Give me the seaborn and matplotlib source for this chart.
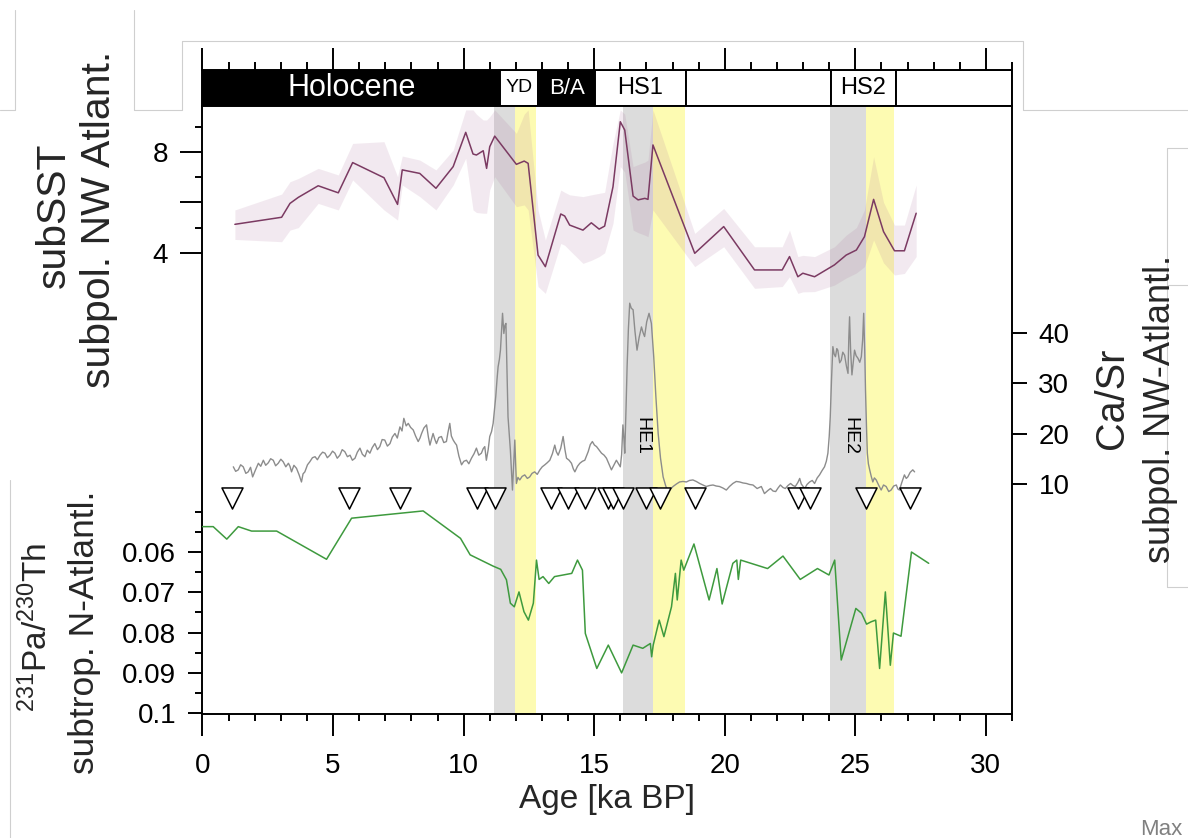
import numpy as np
import pandas as pd
import matplotlib
matplotlib.use("Agg")
import matplotlib.pyplot as plt
from matplotlib.lines import Line2D
from matplotlib.ticker import MultipleLocator, FixedLocator, FixedFormatter, NullFormatter
import seaborn as sns

# ---------------- data ----------------
# subpolar NW Atlantic sea-surface temperature (deg C) with uncertainty envelope
sst_age = [1.24, 3.03, 3.35, 3.67, 4.43, 5.20, 5.75, 6.95, 7.47, 7.65, 8.32, 8.94, 9.60,
           10.08, 10.36, 10.49, 10.75, 10.88, 11.00, 11.19, 12.02, 12.32, 12.47, 12.85,
           13.13, 13.72, 13.87, 14.06, 14.57, 14.89, 15.19, 15.40, 15.72, 16.00, 16.17,
           16.49, 16.68, 16.94, 17.06, 17.25, 18.85, 19.96, 21.14, 22.20, 22.48, 22.80,
           22.99, 23.44, 24.20, 24.65, 25.04, 25.35, 25.70, 26.08, 26.50, 26.88, 27.33]
sst_val = [5.13, 5.41, 5.96, 6.20, 6.66, 6.38, 7.58, 6.98, 5.92, 7.29, 7.15, 6.56, 7.42,
           8.78, 7.92, 7.88, 8.05, 7.35, 8.21, 8.63, 7.51, 7.64, 7.55, 3.91,
           3.45, 5.54, 5.46, 5.10, 4.90, 5.19, 4.94, 5.06, 6.62, 9.20, 8.87,
           6.25, 6.10, 6.16, 6.12, 8.28, 3.98, 5.04, 3.32, 3.32, 3.85, 3.05,
           3.19, 3.05, 3.52, 3.91, 4.11, 4.64, 6.12, 4.84, 4.08, 4.08, 5.57]
sst_hi = [5.70, 6.33, 6.82, 6.95, 7.35, 7.09, 8.34, 8.41, 7.02, 7.84, 7.68, 7.29, 8.08,
          9.67, 9.67, 9.50, 9.27, 9.27, 9.40, 9.67, 8.74, 9.50, 9.67, 5.70,
          4.51, 6.49, 6.40, 6.30, 6.23, 6.30, 6.36, 6.40, 8.34, 9.67, 9.50,
          7.42, 7.50, 7.60, 7.68, 9.67, 4.77, 5.76, 4.24, 4.24, 4.90, 3.85,
          3.90, 3.85, 4.24, 4.70, 5.00, 5.70, 7.81, 6.00, 5.10, 5.10, 6.69]
sst_lo = [4.53, 4.44, 4.90, 5.00, 5.96, 5.70, 6.89, 5.70, 5.30, 6.69, 6.23, 5.70, 6.69,
          7.75, 5.70, 5.60, 5.57, 5.57, 6.50, 7.02, 5.83, 5.90, 5.70, 2.66,
          2.39, 4.37, 4.30, 4.10, 3.58, 3.70, 3.85, 4.00, 5.17, 7.42, 7.20,
          4.90, 4.80, 4.70, 4.64, 5.70, 3.45, 4.24, 2.59, 2.66, 3.05, 2.39,
          2.45, 2.46, 2.72, 3.00, 3.20, 3.45, 4.51, 3.60, 3.12, 3.18, 3.85]

# XRF Ca/Sr ratio, subpolar NW Atlantic
casr_age = [1.18, 1.27, 1.37, 1.46, 1.56, 1.66, 1.75, 1.84, 1.92, 2.03, 2.14, 2.23, 2.33,
            2.42, 2.52, 2.61, 2.71, 2.80, 2.90, 3.00, 3.09, 3.19, 3.29, 3.35, 3.41, 3.50,
            3.60, 3.70, 3.79, 3.85, 3.92, 4.02, 4.11, 4.21, 4.31, 4.40, 4.50, 4.60, 4.69,
            4.78, 4.88, 4.98, 5.07, 5.16, 5.26, 5.35, 5.45, 5.55, 5.65, 5.74, 5.84, 5.93,
            6.03, 6.12, 6.22, 6.31, 6.41, 6.50, 6.60, 6.70, 6.79, 6.88, 6.98, 7.08, 7.18,
            7.27, 7.37, 7.46, 7.56, 7.64, 7.71, 7.80, 7.88, 7.97, 8.07, 8.16, 8.26, 8.33,
            8.39, 8.48, 8.58, 8.65, 8.71, 8.77, 8.83, 8.90, 8.96, 9.05, 9.15, 9.24, 9.34,
            9.40, 9.47, 9.53, 9.60, 9.66, 9.73, 9.82, 9.92, 10.01, 10.11, 10.20, 10.30,
            10.40, 10.49, 10.58, 10.68, 10.75, 10.81, 10.87, 10.94, 11.00, 11.07, 11.13,
            11.18, 11.23, 11.28, 11.32, 11.37, 11.41, 11.45, 11.49, 11.54, 11.58, 11.62,
            11.70, 11.79, 11.87, 11.96, 12.02, 12.08, 12.15, 12.24, 12.34, 12.44, 12.53,
            12.62, 12.72, 12.82, 12.92, 13.01, 13.11, 13.20, 13.30, 13.40, 13.49, 13.55,
            13.62, 13.72, 13.81, 13.88, 13.94, 14.04, 14.13, 14.20, 14.26, 14.36, 14.45,
            14.55, 14.64, 14.70, 14.77, 14.85, 14.93, 15.01, 15.09, 15.18, 15.28, 15.38,
            15.47, 15.56, 15.66, 15.75, 15.85, 15.92, 16.00, 16.05, 16.10, 16.14, 16.17,
            16.22, 16.26, 16.31, 16.36, 16.42, 16.49, 16.56, 16.64, 16.72, 16.81, 16.87,
            16.93, 17.01, 17.10, 17.15, 17.19, 17.28, 17.36, 17.45, 17.54, 17.64, 17.74,
            17.83, 18.02, 18.15, 18.27, 18.40, 18.53, 18.65, 18.78, 18.91, 19.04, 19.17,
            19.29, 19.42, 19.55, 19.67, 19.80, 19.93, 20.06, 20.18, 20.31, 20.44, 20.57,
            20.70, 20.83, 20.95, 21.08, 21.24, 21.40, 21.52, 21.65, 21.75, 21.85, 21.95,
            22.04, 22.13, 22.23, 22.32, 22.42, 22.52, 22.61, 22.70, 22.80, 22.87, 22.93,
            23.00, 23.06, 23.15, 23.25, 23.35, 23.44, 23.54, 23.63, 23.72, 23.82, 23.89,
            23.95, 24.00, 24.04, 24.09, 24.14, 24.19, 24.24, 24.29, 24.33, 24.40, 24.46,
            24.52, 24.59, 24.66, 24.72, 24.75, 24.78, 24.82, 24.87, 24.92, 24.97, 25.03,
            25.10, 25.17, 25.23, 25.28, 25.32, 25.36, 25.39, 25.43, 25.46, 25.50, 25.55,
            25.61, 25.67, 25.73, 25.80, 25.90, 25.99, 26.08, 26.18, 26.28, 26.37, 26.47,
            26.57, 26.63, 26.69, 26.78, 26.88, 26.95, 27.01, 27.10, 27.20, 27.27]
casr_val = [13.5, 12.6, 12.9, 13.9, 13.5, 12.2, 12.5, 13.4, 11.5, 12.9, 14.2, 13.6, 14.8,
            13.8, 14.3, 15.1, 14.8, 13.7, 14.2, 15.0, 14.5, 13.5, 14.2, 13.6, 12.5, 13.8,
            13.2, 11.9, 10.5, 12.1, 12.5, 13.9, 14.5, 15.3, 15.5, 14.9, 15.8, 16.4, 16.2,
            15.3, 15.8, 16.6, 16.2, 15.2, 15.8, 16.9, 16.5, 15.5, 15.8, 14.8, 15.2, 16.4,
            17.2, 16.0, 15.5, 16.8, 16.2, 17.3, 18.1, 16.9, 17.5, 18.9, 18.8, 17.6, 18.1,
            19.4, 20.1, 19.2, 21.4, 20.6, 23.1, 21.6, 22.1, 21.3, 20.8, 19.6, 18.5, 19.2,
            20.1, 21.2, 21.8, 19.4, 17.8, 19.0, 20.1, 18.9, 18.1, 19.3, 19.5, 18.3, 18.5,
            20.3, 22.1, 19.6, 18.8, 18.3, 17.8, 15.6, 13.9, 14.6, 14.8, 14.1, 15.2,
            16.1, 17.2, 15.8, 16.2, 17.1, 17.5, 14.8, 16.9, 19.5, 20.5, 22.1,
            24.8, 27.4, 30.9, 33.3, 34.8, 36.6, 40.2, 43.9, 39.9, 41.5, 41.9,
            23.4, 16.8, 8.9, 18.8, 10.2, 11.4, 10.9, 11.6, 11.9, 11.2, 11.5,
            12.2, 12.5, 12.0, 12.9, 13.5, 13.9, 14.3, 14.8, 16.1, 17.8, 16.5,
            15.8, 17.2, 19.5, 16.9, 15.2, 14.8, 14.2, 13.1, 12.5, 13.6, 14.2,
            14.6, 14.8, 15.6, 16.5, 17.9, 18.5, 17.8, 17.5, 16.9, 16.2, 15.8,
            15.2, 14.1, 12.9, 13.8, 14.8, 14.2, 13.5, 15.9, 21.8, 19.0, 16.2,
            25.2, 33.3, 40.8, 45.9, 44.9, 44.6, 40.4, 36.6, 39.1, 41.2, 40.1,
            39.3, 42.2, 43.9, 42.8, 41.9, 35.3, 27.6, 20.1, 15.2, 11.5, 9.7,
            8.6, 9.6, 10.1, 10.5, 10.6, 10.5, 10.8, 10.9, 10.6, 10.2, 9.9,
            9.6, 9.8, 9.9, 9.7, 9.6, 9.3, 8.9, 9.6, 10.2, 10.6, 10.5,
            10.3, 10.2, 10.0, 9.9, 9.2, 9.6, 8.2, 8.8, 9.2, 8.7, 8.6,
            9.3, 9.9, 9.4, 9.2, 9.8, 10.2, 9.8, 9.6, 10.4, 11.2, 10.1,
            9.6, 9.2, 10.0, 10.5, 10.8, 10.2, 11.3, 11.9, 12.7, 13.5, 14.6,
            16.2, 19.5, 23.4, 31.0, 37.3, 35.8, 35.3, 36.9, 36.6, 34.1, 34.6,
            36.2, 35.6, 33.4, 32.0, 38.9, 43.2, 36.5, 31.7, 34.2, 36.6, 35.5,
            35.0, 34.2, 35.3, 38.6, 43.9, 36.5, 28.7, 21.0, 16.2, 14.1, 12.9,
            11.6, 10.5, 11.3, 10.9, 9.8, 8.9, 9.9, 9.6, 8.6, 8.9, 9.7,
            9.9, 9.1, 8.9, 10.4, 11.9, 11.2, 11.5, 12.4, 12.9, 12.5]

# 231Pa/230Th, subtropical N Atlantic (plotted on a reversed axis)
pa_age = [0.0, 0.41, 0.93, 1.37, 1.88, 2.84, 4.75, 5.71, 8.45, 9.88, 10.25, 11.13, 11.42,
          11.64, 11.79, 11.94, 12.12, 12.31, 12.48, 12.67, 12.79, 12.89, 13.04, 13.26,
          13.48, 14.14, 14.36, 14.55, 14.66, 15.10, 15.54, 16.05, 16.49, 16.86, 17.15,
          17.20, 17.26, 17.49, 17.67, 17.96, 18.11, 18.18, 18.33, 18.43, 18.82, 19.40,
          19.70, 19.90, 20.31, 20.46, 20.52, 20.61, 21.64, 22.23, 22.89, 23.55, 23.99,
          24.21, 24.46, 25.02, 25.24, 25.43, 25.61, 25.78, 25.93, 26.15, 26.34, 26.46,
          26.75, 27.15, 27.81]
pa_val = [0.0537, 0.0537, 0.0568, 0.0537, 0.0548, 0.0548, 0.0618, 0.0516, 0.0498, 0.0566,
          0.0607, 0.0635, 0.0643, 0.0669, 0.0727, 0.0736, 0.0699, 0.0748, 0.0769, 0.0727,
          0.0620, 0.0668, 0.0661, 0.0678, 0.0661, 0.0653, 0.0620, 0.0645, 0.0802, 0.0889,
          0.0831, 0.0900, 0.0831, 0.0839, 0.0827, 0.0860, 0.0831, 0.0769, 0.0810, 0.0736,
          0.0653, 0.0719, 0.0620, 0.0645, 0.0580, 0.0719, 0.0641, 0.0729, 0.0628, 0.0620,
          0.0668, 0.0620, 0.0641, 0.0610, 0.0668, 0.0641, 0.0657, 0.0620, 0.0868, 0.0740,
          0.0752, 0.0779, 0.0773, 0.0769, 0.0889, 0.0699, 0.0881, 0.0801, 0.0809, 0.0600,
          0.0628]

# age-model tie points
tie_age = [1.12, 5.62, 7.56, 10.53, 11.20, 13.36, 14.00, 14.66, 15.53, 15.72, 16.10,
           17.00, 17.51, 18.85, 22.80, 23.25, 25.42, 27.10]

# climate periods shown in the header bar
period_name = ["Holocene", "YD", "B/A", "HS1", "", "HS2", ""]
period_start = [0.0, 11.4, 12.85, 15.05, 18.5, 24.05, 26.55]
period_end = [11.4, 12.85, 15.05, 18.5, 24.05, 26.55, 31.0]
period_dark = [True, False, True, False, False, False, False]
period_fontsize = [22, 14, 16, 17, 17, 17, 17]

# Heinrich-event (grey) and following (yellow) intervals
grey_start = [11.17, 16.10, 24.04]
grey_end = [11.96, 17.25, 25.39]
yellow_start = [11.96, 17.25, 25.39]
yellow_end = [12.76, 18.47, 26.48]

he_label = ["HE1", "HE2"]
he_age = [16.83, 24.78]

# ---------------- style ----------------
sns.set_theme(style="ticks")
plt.rcParams["font.family"] = ["Liberation Sans", "DejaVu Sans"]
plt.rcParams["mathtext.fontset"] = "custom"
plt.rcParams["mathtext.rm"] = "Liberation Sans"
plt.rcParams["mathtext.it"] = "Liberation Sans:italic"
plt.rcParams["axes.edgecolor"] = "black"
plt.rcParams["xtick.color"] = "black"
plt.rcParams["ytick.color"] = "black"

W, H = 1188, 838


def box(x0, y0, x1, y1):
    return [x0 / W, 1 - y1 / H, (x1 - x0) / W, (y1 - y0) / H]


fig = plt.figure(figsize=(W / 100, H / 100), dpi=100)
fig.patch.set_facecolor("white")

ax = fig.add_axes(box(202.5, 106, 1012, 714))
ax_bar = fig.add_axes(box(202.5, 70, 1012, 106))

SPW = 1.4
TICK_FS = 20

# ---- base axes: age axis and shaded intervals ----
ax.set_xlim(0, 31)
ax.set_ylim(0, 1)
ax.set_yticks([])
ax.set_facecolor("white")
for s in ["left", "right", "bottom"]:
    ax.spines[s].set_linewidth(SPW)
    ax.spines[s].set_color("black")
ax.spines["top"].set_visible(False)
ax.xaxis.set_major_locator(MultipleLocator(5))
ax.xaxis.set_minor_locator(MultipleLocator(1))
ax.tick_params(axis="x", which="major", direction="out", length=16, width=SPW,
               labelsize=TICK_FS, pad=12)
ax.tick_params(axis="x", which="minor", direction="out", length=5, width=SPW)
ax.set_xlabel("Age [ka BP]", fontsize=24, labelpad=4)

for a, b in zip(grey_start, grey_end):
    ax.axvspan(a, b, color="#dcdcdc", lw=0, zorder=0)
for a, b in zip(yellow_start, yellow_end):
    ax.axvspan(a, b, color="#fdfbb2", lw=0, zorder=0)


def clean_twin(t):
    for s in t.spines.values():
        s.set_visible(False)
    t.patch.set_visible(False)


# ---- SST ----
ax_sst = ax.twinx()
clean_twin(ax_sst)
ax_sst.set_ylim(-14.30, 9.825)
ax_sst.yaxis.set_ticks_position("left")
ax_sst.yaxis.set_major_locator(FixedLocator([4, 6, 8]))
ax_sst.yaxis.set_major_formatter(FixedFormatter(["4", "", "8"]))
ax_sst.yaxis.set_minor_locator(FixedLocator([5, 7, 9]))
ax_sst.yaxis.set_minor_formatter(NullFormatter())
ax_sst.tick_params(axis="y", which="major", direction="out", length=16, width=SPW,
                   labelsize=TICK_FS, pad=9)
ax_sst.tick_params(axis="y", which="minor", direction="out", length=5, width=SPW)
ax_sst.fill_between(sst_age, sst_lo, sst_hi, color="#a86a96", alpha=0.14, lw=0)
sst_df = pd.DataFrame({"age": sst_age, "sst": sst_val})
sns.lineplot(data=sst_df, x="age", y="sst", ax=ax_sst, color="#7b3a62", lw=1.1,
             sort=False, estimator=None)
ax_sst.set_ylabel("")
ax_sst.set_xlabel("")

# ---- Ca/Sr ----
ax_ca = ax.twinx()
clean_twin(ax_ca)
ax_ca.set_ylim(-35.45, 84.95)
ax_ca.yaxis.set_ticks_position("right")
ax_ca.yaxis.set_major_locator(FixedLocator([10, 20, 30, 40]))
ax_ca.tick_params(axis="y", which="major", direction="out", length=11, width=SPW,
                  labelsize=TICK_FS, pad=8)
casr_df = pd.DataFrame({"age": casr_age, "casr": casr_val})
sns.lineplot(data=casr_df, x="age", y="casr", ax=ax_ca, color="#8c8c8c", lw=1.0,
             sort=False, estimator=None)
tie_df = pd.DataFrame({"age": tie_age, "level": 7.3})
sns.scatterplot(data=tie_df, x="age", y="level", ax=ax_ca, marker="v", s=230,
                facecolor="white", edgecolor="black", linewidth=1.1, zorder=5)
for lab, a in zip(he_label, he_age):
    ax_ca.text(a, 19.6, lab, rotation=-90, ha="center", va="center", fontsize=14,
               color="black")
ax_ca.set_ylabel("")
ax_ca.set_xlabel("")

# ---- Pa/Th ----
ax_pa = ax.twinx()
clean_twin(ax_pa)
ax_pa.set_ylim(0.1002, -0.0507)
ax_pa.yaxis.set_ticks_position("left")
pa_ticks = [0.06, 0.07, 0.08, 0.09, 0.1]
ax_pa.yaxis.set_major_locator(FixedLocator(pa_ticks))
ax_pa.yaxis.set_major_formatter(FixedFormatter(["0.06", "0.07", "0.08", "0.09", "0.1"]))
ax_pa.yaxis.set_minor_locator(FixedLocator([0.05, 0.055, 0.065, 0.075, 0.085, 0.095]))
ax_pa.yaxis.set_minor_formatter(NullFormatter())
ax_pa.tick_params(axis="y", which="major", direction="out", length=10, width=SPW,
                  labelsize=TICK_FS, pad=9)
ax_pa.tick_params(axis="y", which="minor", direction="out", length=5, width=SPW)
pa_df = pd.DataFrame({"age": pa_age, "pa": pa_val})
sns.lineplot(data=pa_df, x="age", y="pa", ax=ax_pa, color="#3e9a3e", lw=1.1,
             sort=False, estimator=None)
ax_pa.set_ylabel("")
ax_pa.set_xlabel("")

# ---- header bar of climate periods ----
ax_bar.set_xlim(0, 31)
ax_bar.set_ylim(0, 1)
ax_bar.set_yticks([])
for s in ax_bar.spines.values():
    s.set_linewidth(SPW)
    s.set_color("black")
ax_bar.xaxis.tick_top()
ax_bar.xaxis.set_major_locator(MultipleLocator(5))
ax_bar.xaxis.set_minor_locator(MultipleLocator(1))
ax_bar.tick_params(axis="x", which="major", direction="out", length=16, width=SPW,
                   labeltop=False, labelbottom=False)
ax_bar.tick_params(axis="x", which="minor", direction="out", length=6, width=SPW)
for name, a, b, dark, fs in zip(period_name, period_start, period_end, period_dark,
                                period_fontsize):
    ax_bar.barh(0.5, b - a, left=a, height=1, color="black" if dark else "white",
                edgecolor="black", linewidth=SPW)
    if name:
        ax_bar.text((a + b) / 2, 0.5, name, ha="center", va="center", fontsize=fs,
                    color="white" if dark else "black")

# ---- axis titles ----
fig.text(54 / W, 1 - 215 / H, "subSST", rotation=90, ha="center", va="center",
         fontsize=29.5)
fig.text(99 / W, 1 - 219 / H, "subpol. NW Atlant.", rotation=90, ha="center",
         va="center", fontsize=29.5)
fig.text(37 / W, 1 - 627 / H, r"$^{231}$Pa/$^{230}$Th", rotation=90, ha="center",
         va="center", fontsize=24)
fig.text(85 / W, 1 - 632 / H, "subtrop. N-Atlantl.", rotation=90, ha="center",
         va="center", fontsize=25.5)
fig.text(1112 / W, 1 - 398 / H, "Ca/Sr", rotation=90, ha="center", va="center",
         fontsize=28.5)
fig.text(1161 / W, 1 - 409 / H, "subpol. NW-Atlantl.", rotation=90, ha="center",
         va="center", fontsize=26)
fig.text(1140 / W, 3 / H, "Max", ha="left", va="baseline", fontsize=16, color="#808080")

# ---- thin panel frame lines around the figure ----
frame = "#cfcfcf"
segments = [
    [(15, 10), (15, 110), (0, 110)],
    [(134, 10), (134, 110), (182, 110), (182, 41), (1023, 41), (1023, 110), (1188, 110)],
    [(1188, 148), (1167, 148), (1167, 587), (1188, 587)],
    [(1167, 285), (1188, 285)],
    [(10, 480), (10, 838)],
]
for seg in segments:
    xs = [p[0] / W for p in seg]
    ys = [1 - p[1] / H for p in seg]
    fig.add_artist(Line2D(xs, ys, transform=fig.transFigure, color=frame, lw=0.8))

fig.savefig("out.png", dpi=100)
